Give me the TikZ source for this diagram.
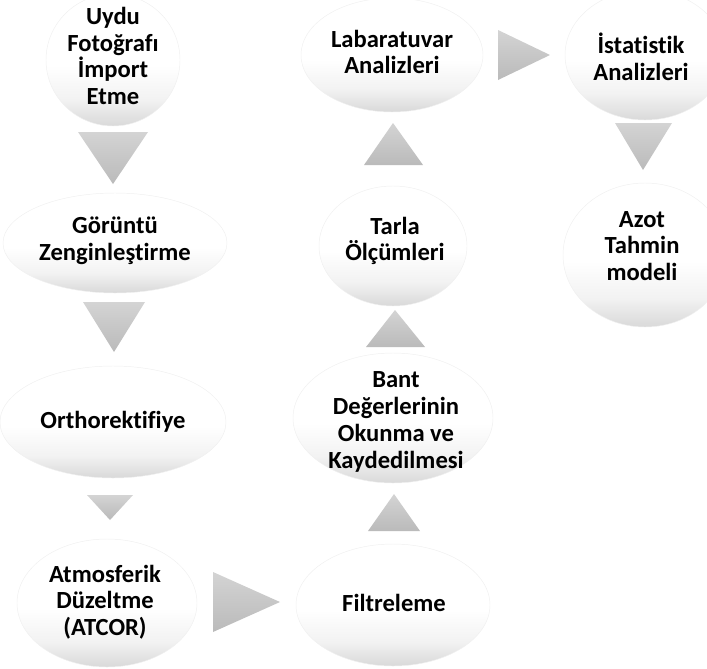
\documentclass[tikz,border=0pt]{standalone}
\usepackage{fontspec}
\setmainfont[Ligatures=NoCommon]{Carlito}
\usetikzlibrary{shapes.geometric}
\pgfdeclareverticalshading{bowl}{100bp}{color(0bp)=(black!14); color(26bp)=(black!14); color(35bp)=(black!5); color(48bp)=(white); color(100bp)=(white)}

\begin{document}
\begin{tikzpicture}[x=0.03cm,y=-0.03cm]
  \tikzstyle{bubble} = [ellipse, inner sep=0pt, draw=black!6, shading=bowl]
  \tikzstyle{caption} = [align=center, inner sep=0pt, font=\bfseries\fontsize{21}{22.8}\selectfont]
  \tikzstyle{tri} = [top color=black!17, bottom color=black!27]
  \useasboundingbox (0,0) rectangle (707,668);
  % left column
  \node[bubble, minimum width=4.02cm, minimum height=3.96cm] (uydu) at (113,60) {};
  \node[caption] (uydu-t) at (113,56) {Uydu\\Fotoğrafı\\İmport\\Etme};
  \node[bubble, minimum width=6.72cm, minimum height=3cm] (goruntu) at (115,243) {};
  \node[caption] (goruntu-t) at (115,241) {Görüntü\\Zenginleştirme};
  \node[bubble, minimum width=6.78cm, minimum height=3.36cm] (ortho) at (113,422) {};
  \node[caption] (ortho-t) at (113,422) {Orthorektifiye};
  \node[bubble, minimum width=5.4cm, minimum height=3.84cm] (atmos) at (107,603) {};
  \node[caption] (atmos-t) at (105,602) {Atmosferik\\Düzeltme\\(ATCOR)};
  % middle column
  \node[bubble, minimum width=5.82cm, minimum height=3.66cm] (filtre) at (393,605) {};
  \node[caption] (filtre-t) at (394,603) {Filtreleme};
  \node[bubble, minimum width=6cm, minimum height=3.9cm] (bant) at (393,418) {};
  \node[caption] (bant-t) at (396,422) {Bant\\Değerlerinin\\Okunma ve\\Kaydedilmesi};
  \node[bubble, minimum width=4.44cm, minimum height=3.6cm] (tarla) at (393,246) {};
  \node[caption] (tarla-t) at (395,241) {Tarla\\Ölçümleri};
  \node[bubble, minimum width=5.46cm, minimum height=3.42cm] (lab) at (392,55) {};
  \node[caption] (lab-t) at (392,52) {Labaratuvar\\Analizleri};
  % right column
  \node[bubble, minimum width=4.8cm, minimum height=3.9cm] (istat) at (645,55) {};
  \node[caption] (istat-t) at (641,57) {İstatistik\\Analizleri};
  \node[bubble, minimum width=4.92cm, minimum height=4.32cm] (azot) at (645,255) {};
  \node[caption] (azot-t) at (642,246) {Azot\\Tahmin\\modeli};
  % triangles
  \shade[tri] (78,132) -- (148,132) -- (113,184) -- cycle;
  \shade[tri] (83,302) -- (145,302) -- (114,352) -- cycle;
  \shade[tri] (87,495) -- (133,495) -- (110,520) -- cycle;
  \shade[tri] (213,572) -- (213,632) -- (280,602) -- cycle;
  \shade[tri] (368,531) -- (420,531) -- (394,494) -- cycle;
  \shade[tri] (366,347) -- (425,347) -- (395,310) -- cycle;
  \shade[tri] (364,165) -- (423,165) -- (393,123) -- cycle;
  \shade[tri] (498,30) -- (498,80) -- (550,55) -- cycle;
  \shade[tri] (615,123) -- (672,123) -- (643,170) -- cycle;
\end{tikzpicture}
\end{document}
